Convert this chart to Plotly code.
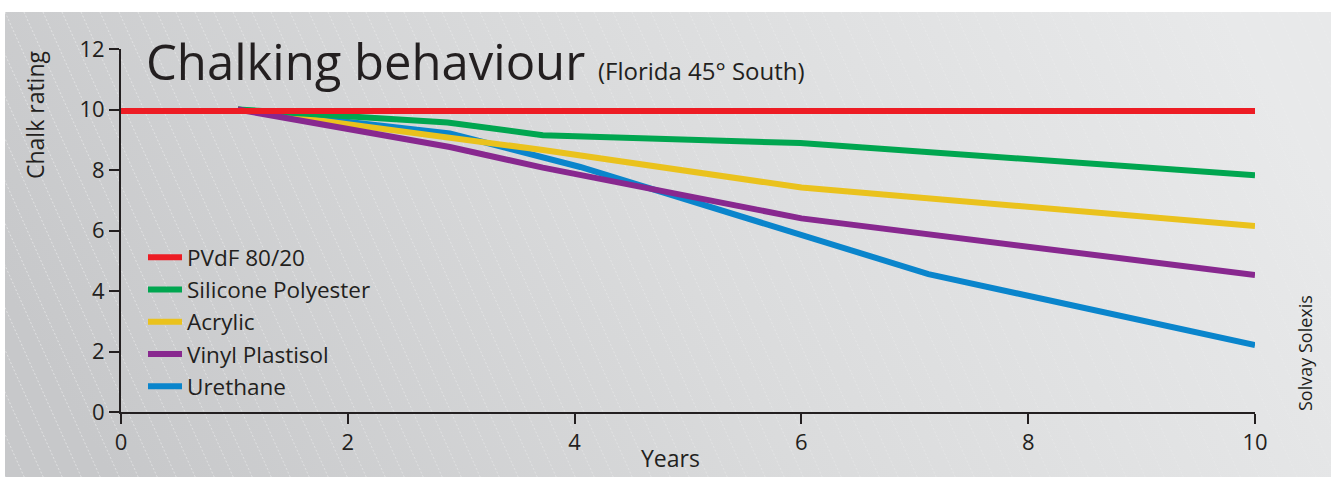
import base64
import plotly.graph_objects as go

# ---- data -------------------------------------------------------------
pvdf_years = [0, 10]
pvdf = [9.95, 9.95]

silicone_years = [1.03, 2.88, 3.72, 5.99, 10]
silicone = [10.0, 9.57, 9.15, 8.89, 7.83]

acrylic_years = [1.03, 2.9, 3.72, 6.0, 10]
acrylic = [10.0, 9.04, 8.66, 7.42, 6.15]

vinyl_years = [1.03, 2.9, 3.72, 6.0, 10]
vinyl = [10.0, 8.76, 8.08, 6.40, 4.53]

urethane_years = [1.03, 2.9, 4.05, 6.0, 7.12, 10]
urethane = [10.0, 9.21, 8.10, 5.85, 4.56, 2.21]

x_ticks = [0, 2, 4, 6, 8, 10]
y_ticks = [0, 2, 4, 6, 8, 10, 12]

# ---- page geometry ------------------------------------------------------
W, H = 1336, 477
ML, MR, MT, MB = 121, 81, 49, 65
PW, PH = W - ML - MR, H - MT - MB
FONT = "Open Sans"
INK = "#231f20"


def px(x):
    return (x - ML) / PW


def py(y):
    return (H - MB - y) / PH


# ---- background panel: grey gradient with faint dashed hatching -------------
BX0, BY0, BX1, BY1 = 5, 12, 1331, 477
bw, bh = BX1 - BX0, BY1 - BY0
hatch = []
step = 19
lean = 0.45 * bh
x0 = -int(lean) - step
while x0 < bw + step:
    hatch.append(
        f"<line x1='{x0:.1f}' y1='0' x2='{x0 + lean:.1f}' y2='{bh}' />"
    )
    x0 += step
svg = (
    f"<svg xmlns='http://www.w3.org/2000/svg' width='{bw}' height='{bh}' "
    f"viewBox='0 0 {bw} {bh}'>"
    "<defs>"
    "<linearGradient id='bg' x1='0' y1='0.6' x2='1' y2='0.4'>"
    "<stop offset='0' stop-color='#c7c8ca'/>"
    "<stop offset='0.5' stop-color='#dadbdc'/>"
    "<stop offset='1' stop-color='#e8e9ea'/>"
    "</linearGradient>"
    f"<linearGradient id='hg' gradientUnits='userSpaceOnUse' x1='0' y1='0' x2='{bw}' y2='0'>"
    "<stop offset='0' stop-color='#ffffff' stop-opacity='0.55'/>"
    "<stop offset='0.6' stop-color='#ffffff' stop-opacity='0.3'/>"
    "<stop offset='1' stop-color='#ffffff' stop-opacity='0.15'/>"
    "</linearGradient>"
    "</defs>"
    f"<rect x='0' y='0' width='{bw}' height='{bh}' fill='url(#bg)'/>"
    "<g stroke='url(#hg)' stroke-width='0.8' stroke-dasharray='2 2' fill='none'>"
    + "".join(hatch)
    + "</g></svg>"
)
bg_src = "data:image/svg+xml;base64," + base64.b64encode(svg.encode()).decode()

# ---- traces -------------------------------------------------------------
series = [
    ("Urethane", urethane_years, urethane, "#0a85cc", 5),
    ("Acrylic", acrylic_years, acrylic, "#eac21d", 3),
    ("Silicone Polyester", silicone_years, silicone, "#00a650", 2),
    ("Vinyl Plastisol", vinyl_years, vinyl, "#88288f", 4),
    ("PVdF 80/20", pvdf_years, pvdf, "#ed1c24", 1),
]

fig = go.Figure()
for name, xs, ys, color, rank in series:
    fig.add_trace(
        go.Scatter(
            x=xs,
            y=ys,
            name=name,
            mode="lines",
            line=dict(color=color, width=6),
            legendrank=rank,
            cliponaxis=False,
        )
    )

axis_common = dict(
    showline=True,
    linewidth=2,
    linecolor=INK,
    ticks="outside",
    ticklen=10,
    tickwidth=2,
    tickcolor=INK,
    showgrid=False,
    zeroline=False,
    tickfont=dict(family=FONT, size=22, color=INK),
)

fig.update_xaxes(range=[0, 10], tickvals=x_ticks, **axis_common)
fig.update_yaxes(range=[0, 12], tickvals=y_ticks, **axis_common)

fig.update_layout(
    width=W,
    height=H,
    margin=dict(l=ML, r=MR, t=MT, b=MB, autoexpand=False),
    paper_bgcolor="white",
    plot_bgcolor="rgba(0,0,0,0)",
    font=dict(family=FONT, color=INK),
    showlegend=True,
    legend=dict(
        x=px(143),
        y=py(236),
        xanchor="left",
        yanchor="top",
        bgcolor="rgba(0,0,0,0)",
        font=dict(family=FONT, size=22.5, color=INK),
        itemwidth=34,
        traceorder="normal",
    ),
    images=[
        dict(
            source=bg_src,
            xref="paper",
            yref="paper",
            x=px(BX0),
            y=py(BY0),
            sizex=bw / PW,
            sizey=bh / PH,
            xanchor="left",
            yanchor="top",
            sizing="stretch",
            layer="below",
        )
    ],
    annotations=[
        dict(
            text="Chalking behaviour <span style='font-size:24px'>(Florida 45° South)</span>",
            x=px(144),
            y=py(96),
            xref="paper",
            yref="paper",
            xanchor="left",
            yanchor="bottom",
            showarrow=False,
            font=dict(family=FONT, size=49, color=INK),
        ),
        dict(
            text="Chalk rating",
            textangle=-90,
            x=px(35),
            y=py(115),
            xref="paper",
            yref="paper",
            xanchor="center",
            yanchor="middle",
            showarrow=False,
            font=dict(family=FONT, size=23, color=INK),
        ),
        dict(
            text="Years",
            x=px(670),
            y=py(458),
            xref="paper",
            yref="paper",
            xanchor="center",
            yanchor="middle",
            showarrow=False,
            font=dict(family=FONT, size=23, color=INK),
        ),
        dict(
            text="Solvay Solexis",
            textangle=-90,
            x=px(1305),
            y=py(353),
            xref="paper",
            yref="paper",
            xanchor="center",
            yanchor="middle",
            showarrow=False,
            font=dict(family=FONT, size=18, color=INK),
        ),
    ],
)

fig.write_html("out.html")
